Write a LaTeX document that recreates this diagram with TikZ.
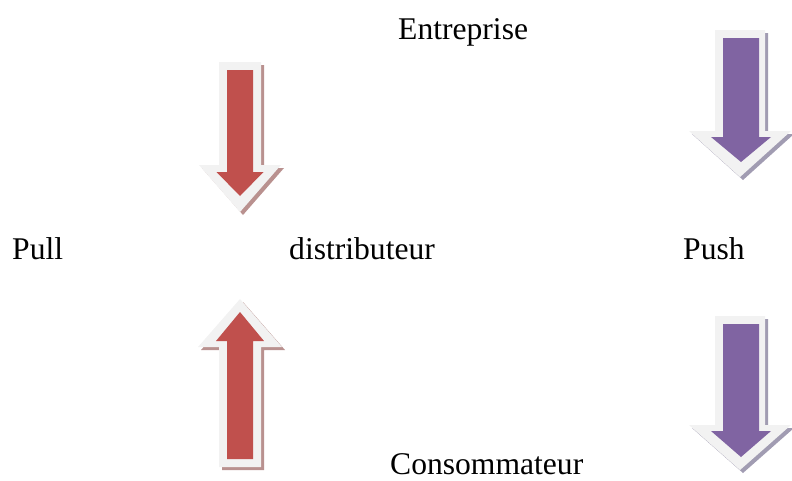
\documentclass[tikz,border=0pt]{standalone}
\usepackage{fontspec}
\setmainfont{Liberation Serif}
\begin{document}
\definecolor{pullred}{HTML}{C0504D}
\definecolor{pushviolet}{HTML}{8064A2}
\definecolor{rim}{HTML}{F2F2F2}
\definecolor{redshade}{HTML}{B9918F}
\definecolor{violetshade}{HTML}{A19CB2}
% Block arrow outline: #1 centre x, #2 tail y, #3 head base y, #4 tip y,
% #5 half shaft width, #6 half head width
\newcommand\blockarrowpath[6]{%
  ({#1-#5},#2) -- ({#1+#5},#2) -- ({#1+#5},#3) -- ({#1+#6},#3) --
  (#1,#4) -- ({#1-#6},#3) -- ({#1-#5},#3) -- cycle}
% Arrow with a light rim and a drop shadow:
% #1 rim outline (six values), #2 inner outline (six values), #3 fill, #4 shadow
\newcommand\blockarrow[4]{%
  \fill[#4, shift={(3,3)}] \blockarrowpath#1;
  \fill[rim] \blockarrowpath#1;
  \fill[#3] \blockarrowpath#2;}
\begin{tikzpicture}[x=1pt, y=-1pt,
  label/.style={anchor=base west, inner sep=0pt, text depth=0pt,
    font=\fontsize{31.6}{36}\selectfont}]
\useasboundingbox (0,0) rectangle (792,480);

% texts
\node[label] (ent) at (398,39) {Entreprise};
\node[label] (pull) at (12,259) {Pull};
\node[label] (dist) at (289,259) {distributeur};
\node[label] (push) at (683,259) {Push};
\node[label] (cons) at (390,474) {Consommateur};

% pull: red arrows
\blockarrow{{240}{62}{165}{212}{21}{41}}{{240}{70}{172}{196}{13}{23.5}}{pullred}{redshade}
\blockarrow{{240}{467}{347}{299}{21}{42}}{{240}{459}{341}{312}{13}{24}}{pullred}{redshade}

% push: violet arrows
\blockarrow{{740}{30}{131}{177}{25}{51}}{{741}{38}{137}{162}{18}{30}}{pushviolet}{violetshade}
\blockarrow{{740}{316}{425}{470}{25}{51}}{{741}{324}{431}{457}{18}{30}}{pushviolet}{violetshade}
\end{tikzpicture}
\end{document}
